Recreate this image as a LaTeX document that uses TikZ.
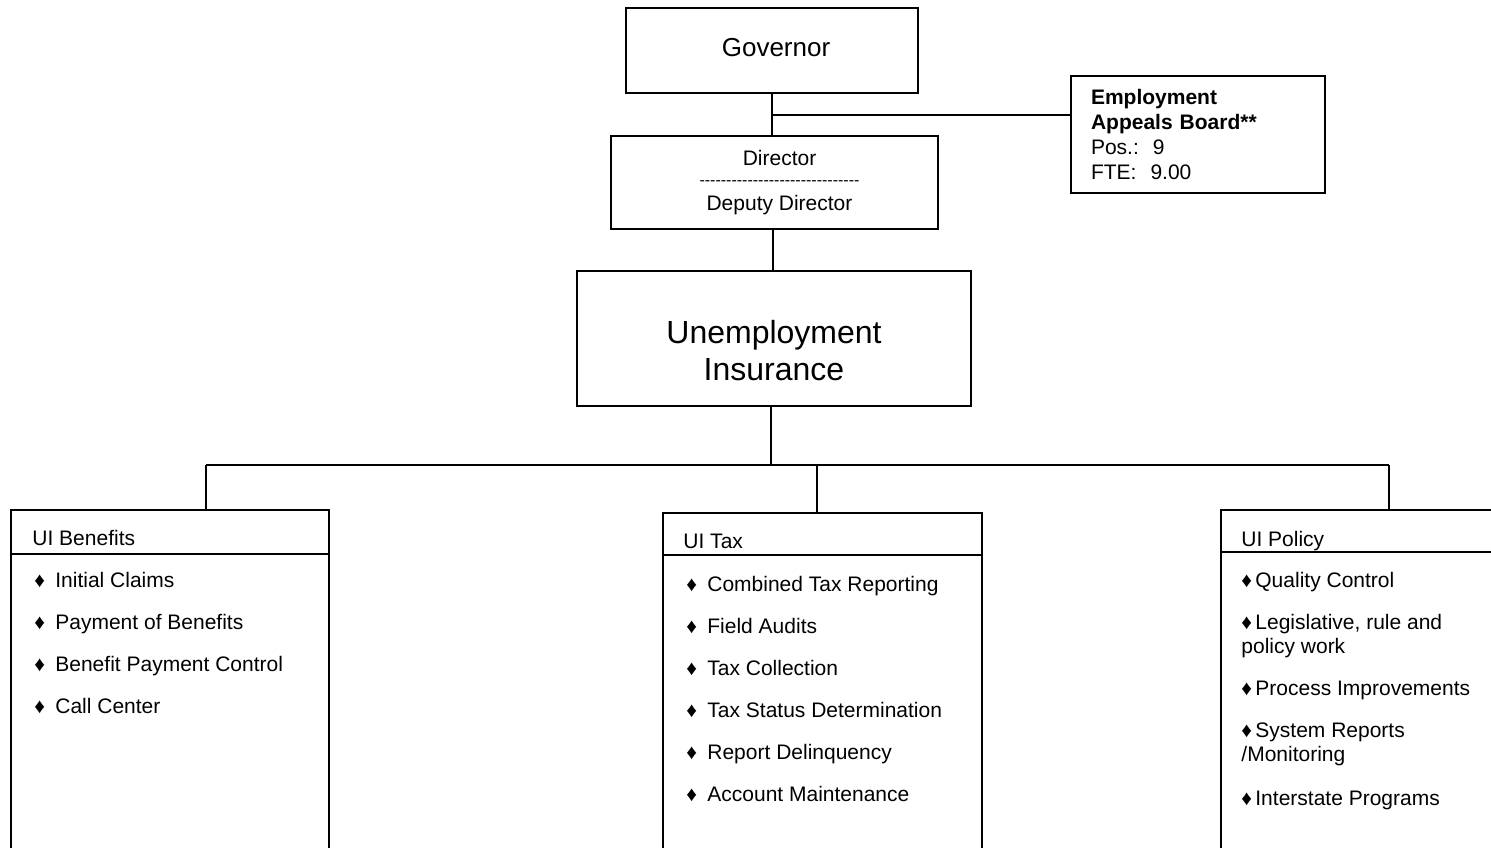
\documentclass[tikz,border=0pt]{standalone}
\usepackage{fontspec}
\setmainfont{Liberation Sans}
\usetikzlibrary{positioning}

\tikzset{
  orgbox/.style={draw, line width=0.8pt, inner sep=0pt, align=center},
  colbox/.style={draw, line width=0.8pt, inner sep=0pt, minimum height=200pt},
  link/.style={line width=1pt},
  itemtext/.style={anchor=base west, inner sep=0pt, align=left, font=\fontsize{10.5}{12}\selectfont},
}
\newcommand{\bul}[1]{\makebox[10.5pt][l]{♦}#1}
\newcommand{\pbul}[1]{\makebox[7pt][l]{♦}#1}
\newcommand{\dashrow}{\foreach \k in {1,...,30}{-}}

\begin{document}
\begin{tikzpicture}[x=0.5pt, y=-0.5pt]
	\useasboundingbox (0,0) rectangle (1491,847);

	% Governor
	\node[orgbox, minimum width=146pt, minimum height=42.5pt, font=\fontsize{13}{15}\selectfont, text depth=3.1pt] (gov) at (772,50.5) {\hspace*{4pt}Governor};

	% Director / Deputy Director
	\node[orgbox, minimum width=163.5pt, minimum height=46.5pt, font=\fontsize{10.5}{10}\selectfont] (dir) at (774.5,182.5) {\hspace*{5pt}Director\\\hspace*{5pt}{\fontsize{8}{8}\selectfont\dashrow}\\[2.5pt]\hspace*{5pt}Deputy Director};

	% Employment Appeals Board
	\node[orgbox, align=left, minimum width=127pt, minimum height=58.5pt, text width=107pt, font=\fontsize{10.5}{12.5}\selectfont] (eab) at (1198,134.5) {\textbf{Employment}\\\textbf{Appeals Board**}\\Pos.:\ \ 9\\FTE:\ \ 9.00};

	% Unemployment Insurance
	\node[orgbox, minimum width=197pt, minimum height=67.5pt, font=\fontsize{16}{18.5}\selectfont, text height=41.5pt, text depth=0pt] (ui) at (774,338.5) {Unemployment\\Insurance};

	% Verbindungen oben
	\coordinate (eabjoin) at (772,115);
	\draw[link] (gov.south) -- (gov.south |- dir.north);
	\draw[link] (eabjoin) -- (eabjoin -| eab.west);
	\draw[link] (773,229 |- dir.south) -- (773,229 |- ui.north);

	% Sammelschiene
	\coordinate (busmid) at (771,465);
	\coordinate (busL) at (206,465);
	\coordinate (busC) at (817,465);
	\coordinate (busR) at (1389,465);
	\draw[link] (busmid |- ui.south) -- (busmid);
	\draw[link] (busL) -- (busR);

	% Spalten
	\node[colbox, minimum width=159pt] (ben) at (170,710) {};
	\node[colbox, minimum width=159.5pt] (tax) at (822.5,713) {};
	\node[colbox, minimum width=150pt] (pol) at (1371,710) {};
	\draw[link] (busL) -- (busL |- ben.north);
	\draw[link] (busC) -- (busC |- tax.north);
	\draw[link] (busR) -- (busR |- pol.north);

	% Kopfzeilen
	\coordinate (benhd) at (0,554);
	\coordinate (taxhd) at (0,554.5);
	\coordinate (polhd) at (0,552);
	\draw[link] (benhd -| ben.west) -- (benhd -| ben.east);
	\draw[link] (taxhd -| tax.west) -- (taxhd -| tax.east);
	\draw[link] (polhd -| pol.west) -- (polhd -| pol.east);
	\node[itemtext] (bentitle) at (32,545) {UI Benefits};
	\node[itemtext] (taxtitle) at (683,548) {UI Tax};
	\node[itemtext] (poltitle) at (1241,546) {UI Policy};

	% UI Benefits
	\node[itemtext] (ben1) at (34,587) {\bul{Initial Claims}};
	\node[itemtext] (ben2) at (34,629) {\bul{Payment of Benefits}};
	\node[itemtext] (ben3) at (34,671) {\bul{Benefit Payment Control}};
	\node[itemtext] (ben4) at (34,713) {\bul{Call Center}};

	% UI Tax
	\node[itemtext] (tax1) at (686,591) {\bul{Combined Tax Reporting}};
	\node[itemtext] (tax2) at (686,633) {\bul{Field Audits}};
	\node[itemtext] (tax3) at (686,675) {\bul{Tax Collection}};
	\node[itemtext] (tax4) at (686,717) {\bul{Tax Status Determination}};
	\node[itemtext] (tax5) at (686,759) {\bul{Report Delinquency}};
	\node[itemtext] (tax6) at (686,801) {\bul{Account Maintenance}};

	% UI Policy (Grundlinie der letzten Zeile)
	\node[itemtext] (pol1) at (1241,587) {\pbul{Quality Control}};
	\node[itemtext] (pol2) at (1241,653) {\pbul{Legislative, rule and}\\policy work};
	\node[itemtext] (pol3) at (1241,695) {\pbul{Process Improvements}};
	\node[itemtext] (pol4) at (1241,761) {\pbul{System Reports}\\/Monitoring};
	\node[itemtext] (pol5) at (1241,805) {\pbul{Interstate Programs}};

\end{tikzpicture}
\end{document}
